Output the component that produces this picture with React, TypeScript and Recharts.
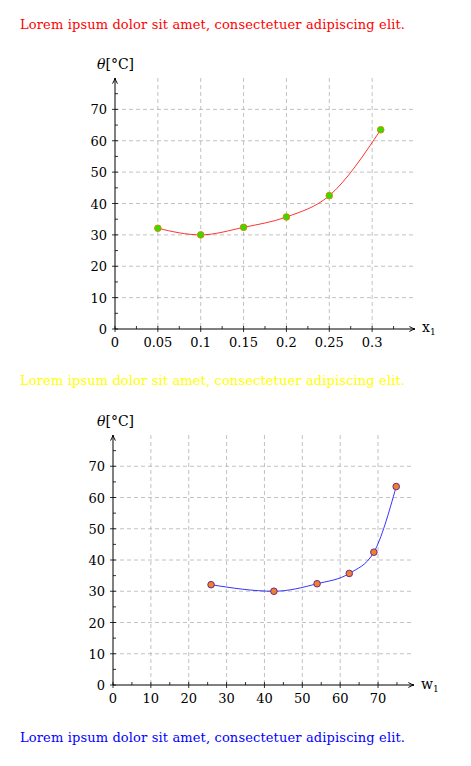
import React from 'react';
import { LineChart, Line, XAxis, YAxis, CartesianGrid } from 'recharts';

const x1Values = [0.05, 0.1, 0.15, 0.2, 0.25, 0.31];
const w1Values = [25.9, 42.5, 53.9, 62.4, 68.9, 74.8];
const thetaValues = [32.1, 30.0, 32.4, 35.7, 42.5, 63.5];

const x1MajorTicks = [0, 0.05, 0.1, 0.15, 0.2, 0.25, 0.3];
const x1MinorTicks = [0.025, 0.075, 0.125, 0.175, 0.225, 0.275, 0.325];
const w1MajorTicks = [0, 10, 20, 30, 40, 50, 60, 70];
const w1MinorTicks = [5, 15, 25, 35, 45, 55, 65, 75];
const thetaMajorTicks = [0, 10, 20, 30, 40, 50, 60, 70];
const thetaMinorTicks = [5, 15, 25, 35, 45, 55, 65, 75];

const paragraph = 'Lorem ipsum dolor sit amet, consectetuer adipiscing elit.';
const yLabelSymbol = 'θ';
const yLabelUnit = '[°C]';

const FONT = 'DejaVu Serif';
const serifStyle = { fontFamily: FONT };

const topData = x1Values.map((x, i) => ({ x, theta: thetaValues[i] }));
const bottomData = w1Values.map((w, i) => ({ w, theta: thetaValues[i] }));

const sortNums = (a: number[], b: number[]) => [...a, ...b].sort((p, q) => p - q);

const makeXTick = (majors: number[]) => (props: any) => {
  const { x, y, payload } = props;
  const v = payload.value;
  const isMajor = majors.includes(v);
  return (
    <g>
      {isMajor ? (
        <line x1={x} x2={x} y1={y - 3} y2={y + 3} stroke="#000" strokeWidth={0.8} />
      ) : (
        <line x1={x} x2={x} y1={y - 3} y2={y} stroke="#000" strokeWidth={0.8} />
      )}
      {isMajor && (
        <text x={x} y={y + 18} textAnchor="middle" style={serifStyle} fontSize={13} fill="#000">
          {String(v)}
        </text>
      )}
    </g>
  );
};

const makeYTick = (majors: number[]) => (props: any) => {
  const { x, y, payload } = props;
  const v = payload.value;
  const isMajor = majors.includes(v);
  return (
    <g>
      {isMajor ? (
        <line x1={x - 3} x2={x + 3} y1={y} y2={y} stroke="#000" strokeWidth={0.8} />
      ) : (
        <line x1={x} x2={x + 3} y1={y} y2={y} stroke="#000" strokeWidth={0.8} />
      )}
      {isMajor && (
        <text x={x - 8} y={y + 5} textAnchor="end" style={serifStyle} fontSize={13} fill="#000">
          {String(v)}
        </text>
      )}
    </g>
  );
};

const ArrowDefs = ({ id }: { id: string }) => (
  <defs>
    <marker
      id={id}
      viewBox="0 0 10 10"
      refX="9"
      refY="5"
      markerWidth="7"
      markerHeight="7"
      markerUnits="userSpaceOnUse"
      orient="auto-start-reverse"
    >
      <path d="M1,1.5 Q5,4 9,5 Q5,6 1,8.5" fill="none" stroke="#000" strokeWidth={1.4} />
    </marker>
  </defs>
);

const gridStroke = '#b3b3b3';

export default function App() {
  return (
    <div style={{ position: 'absolute', left: 0, top: 0, width: 471, height: 766, background: '#fff' }}>
      <div style={{ position: 'absolute', left: 0, top: 0 }}>
        <LineChart width={471} height={370} data={topData} margin={{ top: 78, right: 56, bottom: 11, left: 75 }}>
          <ArrowDefs id="arrowTop" />
          <CartesianGrid
            stroke={gridStroke}
            strokeDasharray="4 3"
            strokeWidth={0.8}
            verticalValues={x1MajorTicks.filter((v) => v > 0)}
            horizontalValues={thetaMajorTicks.filter((v) => v > 0)}
          />
          <XAxis
            dataKey="x"
            type="number"
            domain={[0, 0.35]}
            ticks={sortNums(x1MajorTicks, x1MinorTicks)}
            interval={0}
            tickLine={false}
            tickSize={0}
            tickMargin={0}
            height={30}
            allowDataOverflow
            axisLine={{ stroke: '#000', strokeWidth: 1, markerEnd: 'url(#arrowTop)' }}
            tick={makeXTick(x1MajorTicks)}
          />
          <YAxis
            type="number"
            domain={[0, 80]}
            ticks={sortNums(thetaMajorTicks, thetaMinorTicks)}
            interval={0}
            tickLine={false}
            tickSize={0}
            tickMargin={0}
            width={40}
            allowDataOverflow
            axisLine={{ stroke: '#000', strokeWidth: 1, markerStart: 'url(#arrowTop)' }}
            tick={makeYTick(thetaMajorTicks)}
          />
          <Line
            type="monotone"
            dataKey="theta"
            stroke="#ff0000"
            strokeWidth={0.8}
            dot={{ r: 3.3, fill: '#33dd00', stroke: '#d98a00', strokeWidth: 1 }}
            isAnimationActive={false}
          />
        </LineChart>
      </div>
      <div style={{ position: 'absolute', left: 0, top: 360 }}>
        <LineChart width={471} height={370} data={bottomData} margin={{ top: 75, right: 57, bottom: 15, left: 73 }}>
          <ArrowDefs id="arrowBottom" />
          <CartesianGrid
            stroke={gridStroke}
            strokeDasharray="4 3"
            strokeWidth={0.8}
            verticalValues={w1MajorTicks.filter((v) => v > 0)}
            horizontalValues={thetaMajorTicks.filter((v) => v > 0)}
          />
          <XAxis
            dataKey="w"
            type="number"
            domain={[0, 79.5]}
            ticks={sortNums(w1MajorTicks, w1MinorTicks)}
            interval={0}
            tickLine={false}
            tickSize={0}
            tickMargin={0}
            height={30}
            allowDataOverflow
            axisLine={{ stroke: '#000', strokeWidth: 1, markerEnd: 'url(#arrowBottom)' }}
            tick={makeXTick(w1MajorTicks)}
          />
          <YAxis
            type="number"
            domain={[0, 80]}
            ticks={sortNums(thetaMajorTicks, thetaMinorTicks)}
            interval={0}
            tickLine={false}
            tickSize={0}
            tickMargin={0}
            width={40}
            allowDataOverflow
            axisLine={{ stroke: '#000', strokeWidth: 1, markerStart: 'url(#arrowBottom)' }}
            tick={makeYTick(thetaMajorTicks)}
          />
          <Line
            type="monotone"
            dataKey="theta"
            stroke="#0000ff"
            strokeWidth={0.8}
            dot={{ r: 3.3, fill: '#f0802e', stroke: '#6a2a8a', strokeWidth: 1 }}
            isAnimationActive={false}
          />
        </LineChart>
      </div>
      <svg
        width={471}
        height={766}
        style={{ position: 'absolute', left: 0, top: 0, pointerEvents: 'none', fontFamily: FONT }}
      >
        <text x={20} y={29} style={serifStyle} fontSize={13} fill="#ff0000" textLength={385} lengthAdjust="spacing">
          {paragraph}
        </text>
        <text x={20} y={385} style={serifStyle} fontSize={13} fill="#ffff00" textLength={385} lengthAdjust="spacing">
          {paragraph}
        </text>
        <text x={20} y={742} style={serifStyle} fontSize={13} fill="#0000ff" textLength={385} lengthAdjust="spacing">
          {paragraph}
        </text>
        <text x={97} y={69} style={serifStyle} fontSize={14} fill="#000">
          <tspan fontStyle="italic">{yLabelSymbol}</tspan>
          <tspan>{yLabelUnit}</tspan>
        </text>
        <text x={97} y={426} style={serifStyle} fontSize={14} fill="#000">
          <tspan fontStyle="italic">{yLabelSymbol}</tspan>
          <tspan>{yLabelUnit}</tspan>
        </text>
        <text x={422} y={332} style={serifStyle} fontSize={14} fill="#000">
          x<tspan fontSize={9} dy={3}>1</tspan>
        </text>
        <text x={421} y={689} style={serifStyle} fontSize={14} fill="#000">
          w<tspan fontSize={9} dy={3}>1</tspan>
        </text>
      </svg>
    </div>
  );
}
